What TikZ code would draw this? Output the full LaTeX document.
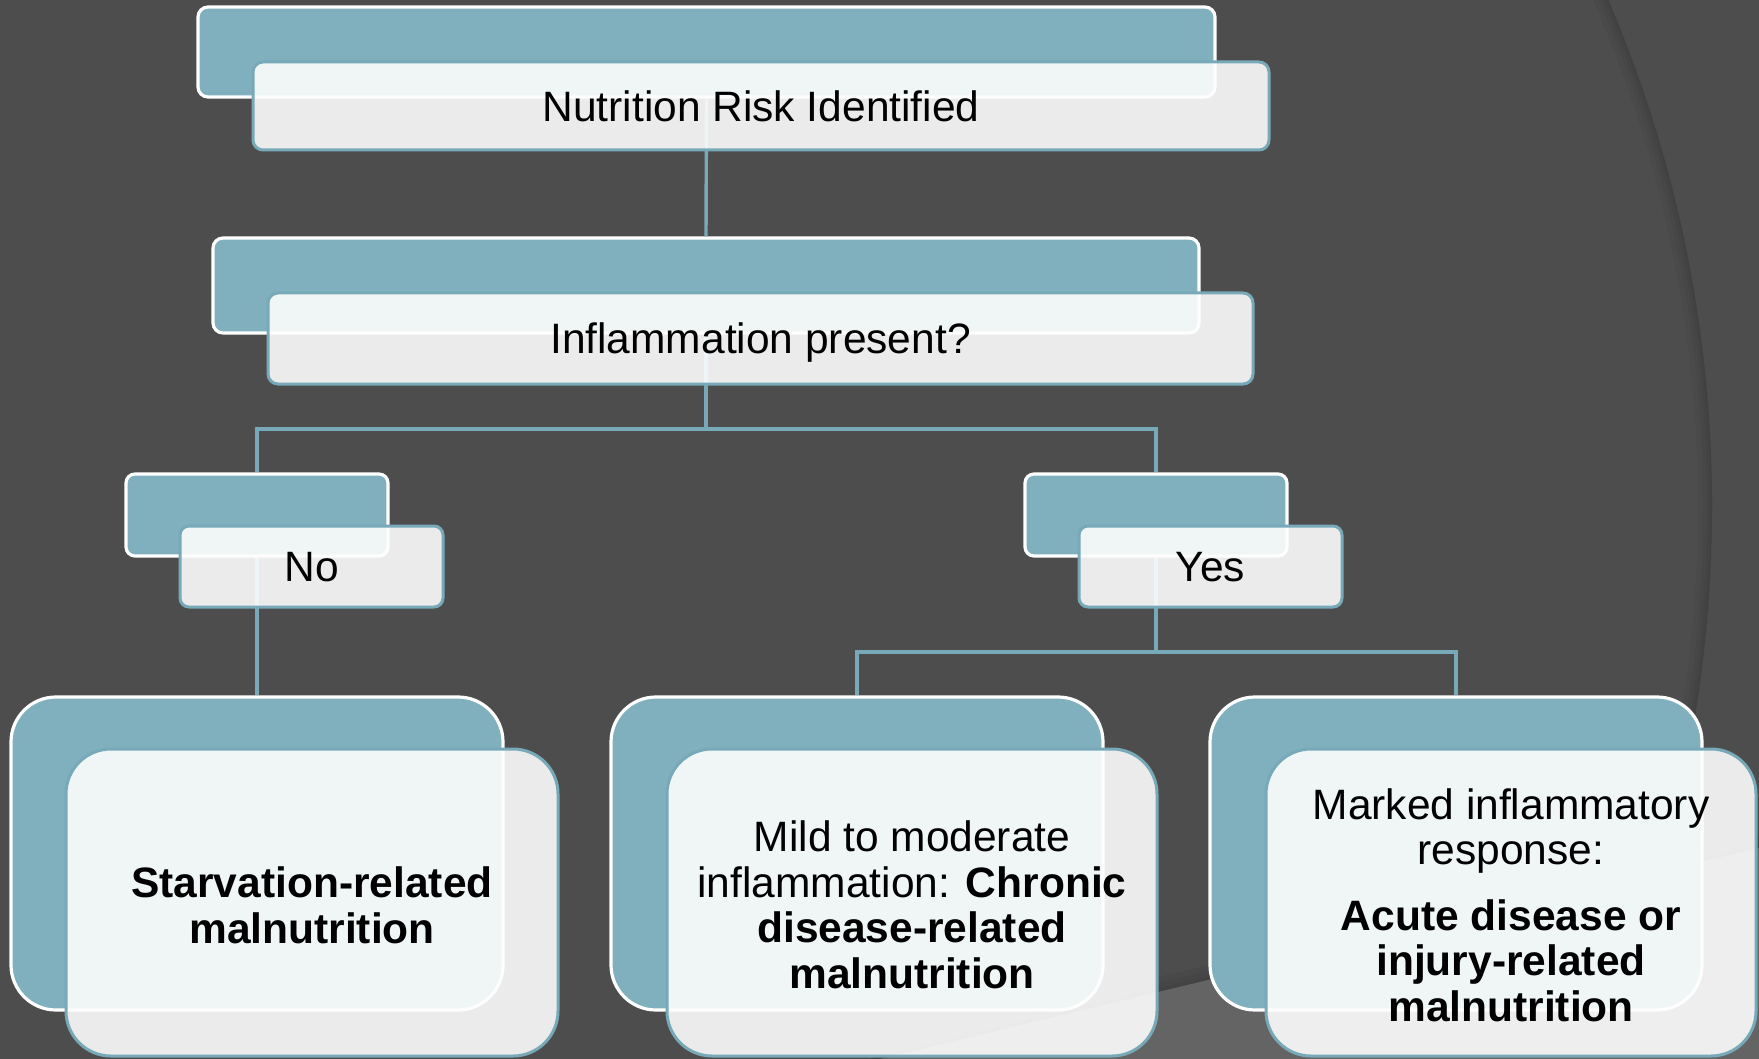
\documentclass[tikz,border=0pt]{standalone}
\usepackage{fontspec}
\setmainfont{Liberation Sans}
\definecolor{bgc}{HTML}{4D4D4D}
\definecolor{wedgec}{HTML}{646464}
\definecolor{tealfill}{HTML}{80B0BE}
\definecolor{tealline}{HTML}{78A9B9}
\definecolor{frontfill}{HTML}{FDFDFD}
\begin{document}
\begin{tikzpicture}[x=1pt,y=-1pt,
  backbox/.style={draw=white, line width=3.2pt, fill=tealfill, rounded corners=#1, inner sep=0pt},
  frontbox/.style={draw=tealline, line width=3pt, fill=frontfill, fill opacity=0.9, draw opacity=1, text opacity=1, rounded corners=#1, inner sep=0pt},
  conn/.style={draw=tealline, line width=3.4pt, line join=miter},
  lbl/.style={font=\fontsize{42.5}{45.5}\selectfont, align=center, text=black}]
% background
\fill[bgc] (0,0) rectangle (1759,1059);
\useasboundingbox (0,0) rectangle (1759,1059);
\begin{scope}
  \clip (0,0) rectangle (1759,1059);
  \foreach \w in {2,5,9,14} {
    \draw[black, opacity=0.035, line width=\w pt] (428,506.5) circle[radius=1284-\w/2];
  }
  \foreach \s in {0,4,9,15} {
    \fill[black, opacity=0.04] (870,1059) -- (1158,992-\s) -- (1759,848-\s) -- (1759,1059) -- cycle;
  }
  \fill[wedgec] (880,1059) -- (1158,992) -- (1759,848) -- (1759,1059) -- cycle;
\end{scope}
% junction points
\coordinate (j1) at (706,429);
\coordinate (j2) at (1156,652);
% back boxes
\node[backbox=10pt, minimum width=1017pt, minimum height=90pt] (b1) at (706.5,52) {};
\node[backbox=10pt, minimum width=986pt, minimum height=95pt] (b2) at (706,285.5) {};
\node[backbox=9pt, minimum width=262pt, minimum height=82pt] (bno) at (257,515) {};
\node[backbox=9pt, minimum width=262pt, minimum height=82pt] (byes) at (1156,515) {};
\node[backbox=45pt, minimum width=492pt, minimum height=313pt] (bl) at (257,853.5) {};
\node[backbox=45pt, minimum width=492pt, minimum height=313pt] (bm) at (857,853.5) {};
\node[backbox=45pt, minimum width=492pt, minimum height=313pt] (br) at (1456,853.5) {};
% connectors
\draw[conn] (b1.south) -- (b2.north);
\draw[conn] (b2.south) -- (j1);
\draw[conn] (bno.north) |- (j1) -| (byes.north);
\draw[conn] (bno.south) -- (bl.north);
\draw[conn] (byes.south) -- (j2);
\draw[conn] (bm.north) |- (j2) -| (br.north);
% front boxes
\node[frontbox=10pt, minimum width=1016pt, minimum height=88pt, lbl] (f1) at (761,106) {Nutrition Risk Identified};
\node[frontbox=10pt, minimum width=985pt, minimum height=91pt, lbl, text depth=-2pt] (f2) at (760.5,338.5) {Inflammation present?};
\node[frontbox=9pt, minimum width=263pt, minimum height=81pt, lbl, text depth=-2pt] (fno) at (311.5,566.5) {No};
\node[frontbox=9pt, minimum width=263pt, minimum height=81pt, lbl, text depth=-2pt] (fyes) at (1210.5,566.5) {Yes};
\node[frontbox=45pt, minimum width=492pt, minimum height=307pt, lbl] (fl) at (312,902.5) {\\[-9pt]\textbf{Starvation-related}\\\textbf{malnutrition}};
\node[frontbox=45pt, minimum width=490pt, minimum height=307pt, lbl] (fm) at (912,902.5) {\\[-10pt]Mild to moderate\\inflammation: \textbf{Chronic}\\\textbf{disease-related}\\\textbf{malnutrition}};
\node[frontbox=45pt, minimum width=490pt, minimum height=307pt, lbl] (fr) at (1511,902.5) {\\[-10pt]Marked inflammatory\\response:\\[20pt]\textbf{Acute disease or}\\\textbf{injury-related}\\\textbf{malnutrition}};
\end{tikzpicture}
\end{document}
